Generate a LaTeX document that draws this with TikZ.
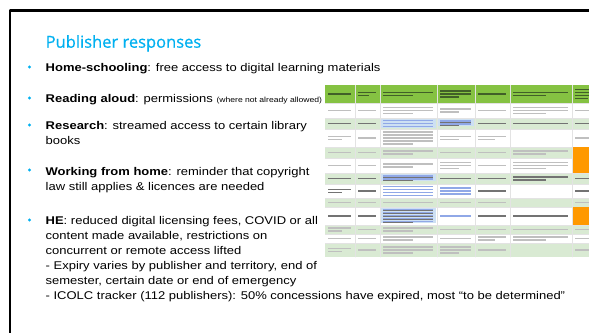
\documentclass[tikz,border=0pt]{standalone}
\usepackage{fontspec}
\setmainfont{Liberation Sans}[FakeStretch=1.16]
\newfontfamily\titlefont{Open Sans}[FakeBold=0.6]
\definecolor{skyblue}{RGB}{0,176,240}
\definecolor{hdrgreen}{RGB}{133,194,66}
\definecolor{rowgreen}{RGB}{217,234,211}
\definecolor{cellorange}{RGB}{255,153,0}
\definecolor{linkblue}{RGB}{70,110,215}
\definecolor{linkbg}{RGB}{205,224,243}
\definecolor{hdrtext}{RGB}{65,95,40}
\tikzset{
  bodytext/.style={anchor=base west, inner sep=0pt, align=left, font=\fontsize{11.2}{15}\selectfont},
  bulletdot/.style={fill=skyblue},
  gridline/.style={draw=gray!22, line width=0.5pt},
  cellbar/.style={line width=1.2pt, line cap=butt},
  txtlight/.style={black!25},
  txtdark/.style={black!55},
}
\begin{document}
\begin{tikzpicture}[line cap=round,line join=round,x=1pt,y=-1pt]
\useasboundingbox (0,0) rectangle (589,333);
\draw[line width=2.6pt,line cap=butt] (589,10.3) -- (10,10.3) -- (10,333);
\node[anchor=base west,inner sep=0pt,text=skyblue,font=\titlefont\fontsize{16.5}{18}\selectfont] (title) at (45.5,47.7) {Publisher responses};
% bullet points (multi-line nodes sit on their last line)
\node[bodytext] (home) at (45.5,71) {\textbf{Home-schooling}: free access to digital learning materials};
\node[bodytext] (read) at (45.5,102) {\textbf{Reading aloud}: permissions {\fontsize{7.4}{9}\selectfont (where not already allowed)}};
\node[bodytext] (research) at (45.5,144) {\textbf{Research}: streamed access to certain library\\books};
\node[bodytext] (work) at (45.5,190) {\textbf{Working from home}: reminder that copyright\\law still applies \& licences are needed};
\node[bodytext] (he) at (45.5,299) {\textbf{HE}: reduced digital licensing fees, COVID or all\\content made available, restrictions on\\concurrent or remote access lifted\\- Expiry varies by publisher and territory, end of\\semester, certain date or end of emergency\\- ICOLC tracker (112 publishers): 50\% concessions have expired, most “to be determined”};
\foreach \y in {71,102,129,174,224}
  \fill[bulletdot] (29.5,\y-4) circle (1.6);
% spreadsheet screenshot
\begin{scope}
\clip (325,85) rectangle (589,257);
\fill[hdrgreen] (325,85) rectangle (600,103);
\foreach \ya/\yb/\fc in {103/118/white,118/129/rowgreen,129/147/white,147/158/rowgreen,158/173/white,173/184/rowgreen,184/198/white,198/207/rowgreen,207/225/white,225/234/rowgreen,234/243/white,243/257/rowgreen}
  \fill[\fc] (325,\ya) rectangle (600,\yb);
\foreach \xa/\xb/\ya/\yb in {381/436/119/128,438/474/119/126,381/436/174/181,381/436/208/223}
  \fill[linkbg] (\xa,\ya) rectangle (\xb,\yb);
\foreach \x in {355,380,437,475,510,572}
  \draw[gridline] (\x,85) -- (\x,257);
\foreach \y in {103,118,129,147,158,173,184,198,207,225,234,243}
  \draw[gridline] (325,\y) -- (600,\y);
\foreach \ya/\yb/\tc/\ns in {85/103/hdrtext/{1,2,2,3,1,2,4},103/118/txtlight/{1,1,3,2,1,3,1},118/129/txtdark/{1,1,3,2,1,1,1},129/147/txtlight/{2,1,5,2,2,0,1},147/158/txtlight/{1,1,2,1,1,2,1},158/173/txtlight/{1,1,2,3,1,3,1},173/184/txtdark/{1,1,2,1,1,2,1},184/198/txtdark/{2,1,4,3,1,0,1},198/207/txtlight/{1,1,1,1,1,0,1},207/225/txtdark/{1,1,5,1,1,1,1},225/234/txtlight/{2,1,2,1,1,1,1},234/243/txtlight/{1,1,2,1,2,2,1},243/257/txtlight/{2,1,3,3,1,0,1}}
  \foreach \nl [count=\ci] in \ns {
    \pgfmathsetmacro\xl{{325,355,380,437,475,510,572}[\ci-1]+3}
    \pgfmathsetmacro\cw{{30,25,57,38,35,62,28}[\ci-1]-7}
    \ifnum\nl>0
      \foreach \li in {1,...,\nl}{
        \pgfmathsetmacro\yk{(\ya+\yb)/2+(\li-(\nl+1)/2)*3}
        \pgfmathsetmacro\barlen{(\li==\nl && \nl>1) ? 0.6*\cw : \cw}
        \draw[cellbar,\tc] (\xl,\yk) -- ++(\barlen,0);
      }
    \fi
  }
\foreach \xl/\ym/\nl/\cw in {383/123.5/3/50,440/122.5/2/31,383/177.5/2/50,383/191/4/50,440/191/3/31,383/215.5/5/50,440/216/1/31}
  \foreach \li in {1,...,\nl}
    \draw[cellbar,linkblue!60] (\xl,{\ym+(\li-(\nl+1)/2)*3}) -- ++(\cw,0);
\fill[cellorange] (572.5,147.3) rectangle (600,173);
\fill[cellorange] (572.5,207.3) rectangle (600,225);
\end{scope}
\end{tikzpicture}
\end{document}
